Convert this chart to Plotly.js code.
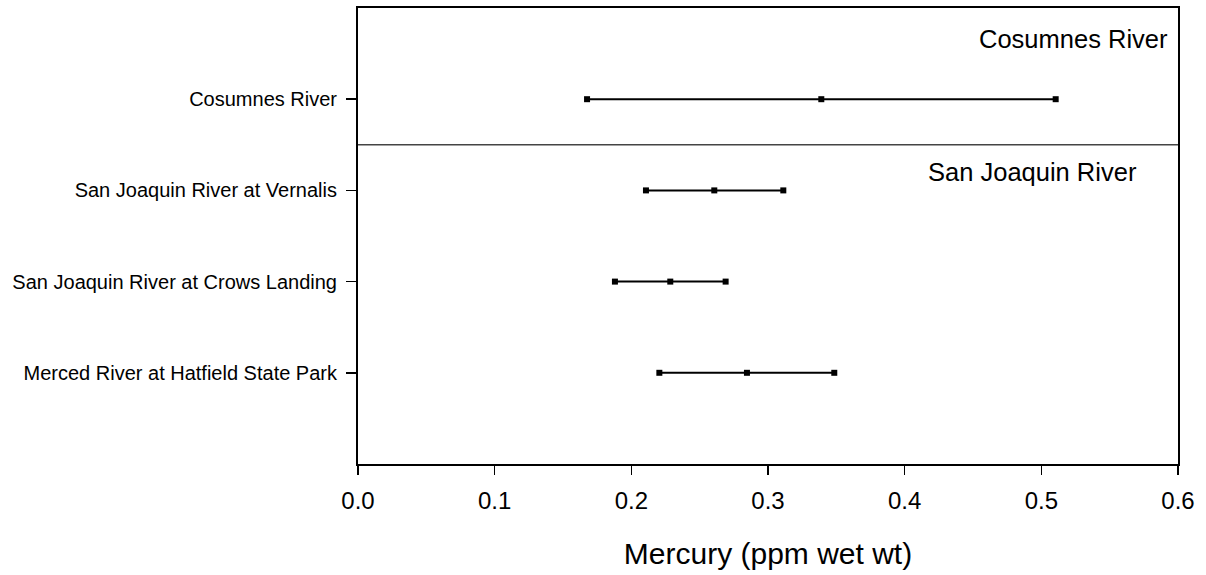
<!DOCTYPE html>
<html>
<head>
<meta charset="utf-8">
<script src="https://cdn.plot.ly/plotly-3.0.1.min.js"></script>
<style>html,body{margin:0;padding:0;background:#fff;}#chart{width:1206px;height:575px;}</style>
</head>
<body>
<div id="chart"></div>
<script>
// Data
const categories = ["Merced River at Hatfield State Park", "San Joaquin River at Crows Landing", "San Joaquin River at Vernalis", "Cosumnes River"];
const rowPos = [1, 2, 3, 4];
const lowVals  = [0.2205, 0.188, 0.2107, 0.1676];
const meanVals = [0.2846, 0.2285, 0.2607, 0.339];
const highVals = [0.3485, 0.269, 0.3112, 0.5105];
const groupLabels = ["Cosumnes River", "San Joaquin River"];
const xTicks = [0, 0.1, 0.2, 0.3, 0.4, 0.5, 0.6];

const font = "Liberation Sans, Arial, sans-serif";
const traces = categories.map((c, i) => ({
  type: "scatter",
  mode: "lines+markers",
  x: [lowVals[i], meanVals[i], highVals[i]],
  y: [rowPos[i], rowPos[i], rowPos[i]],
  name: c,
  line: {color: "#000", width: 2},
  marker: {symbol: "square", size: 6, color: "#000"},
  showlegend: false,
  hoverinfo: "x+name"
}));

const layout = {
  width: 1206, height: 575,
  margin: {l: 358, r: 28, t: 8, b: 111},
  paper_bgcolor: "#fff", plot_bgcolor: "#fff",
  font: {family: font, color: "#000"},
  xaxis: {
    range: [0, 0.6], tickvals: xTicks, ticktext: xTicks.map(v => v.toFixed(1)),
    ticks: "outside", ticklen: 9, tickwidth: 1.5, tickcolor: "#000",
    showline: true, linecolor: "#000", linewidth: 2, mirror: true,
    showgrid: false, zeroline: false,
    ticklabelstandoff: 5,
    tickfont: {size: 24, family: font},
    title: {text: "Mercury (ppm wet wt)", font: {size: 30, family: font}, standoff: 30}
  },
  yaxis: {
    range: [0, 5], tickvals: rowPos, ticktext: categories,
    ticks: "outside", ticklen: 10, tickwidth: 1.5, tickcolor: "#000",
    showline: true, linecolor: "#000", linewidth: 2, mirror: true,
    showgrid: false, zeroline: false,
    ticklabelstandoff: 5,
    tickfont: {size: 20, family: font}
  },
  shapes: [{
    type: "line", xref: "paper", yref: "y", x0: 0, x1: 1, y0: 3.5, y1: 3.5,
    line: {color: "#444", width: 1.5}
  }],
  annotations: [
    {text: groupLabels[0], xref: "paper", yref: "y", x: 0.99, y: 4.66, xanchor: "right", yanchor: "middle", showarrow: false, font: {size: 25.5, family: font}},
    {text: groupLabels[1], xref: "paper", yref: "y", x: 0.953, y: 3.2, xanchor: "right", yanchor: "middle", showarrow: false, font: {size: 25.5, family: font}}
  ]
};

Plotly.newPlot("chart", traces, layout, {displayModeBar: false, staticPlot: true});
</script>
</body>
</html>
